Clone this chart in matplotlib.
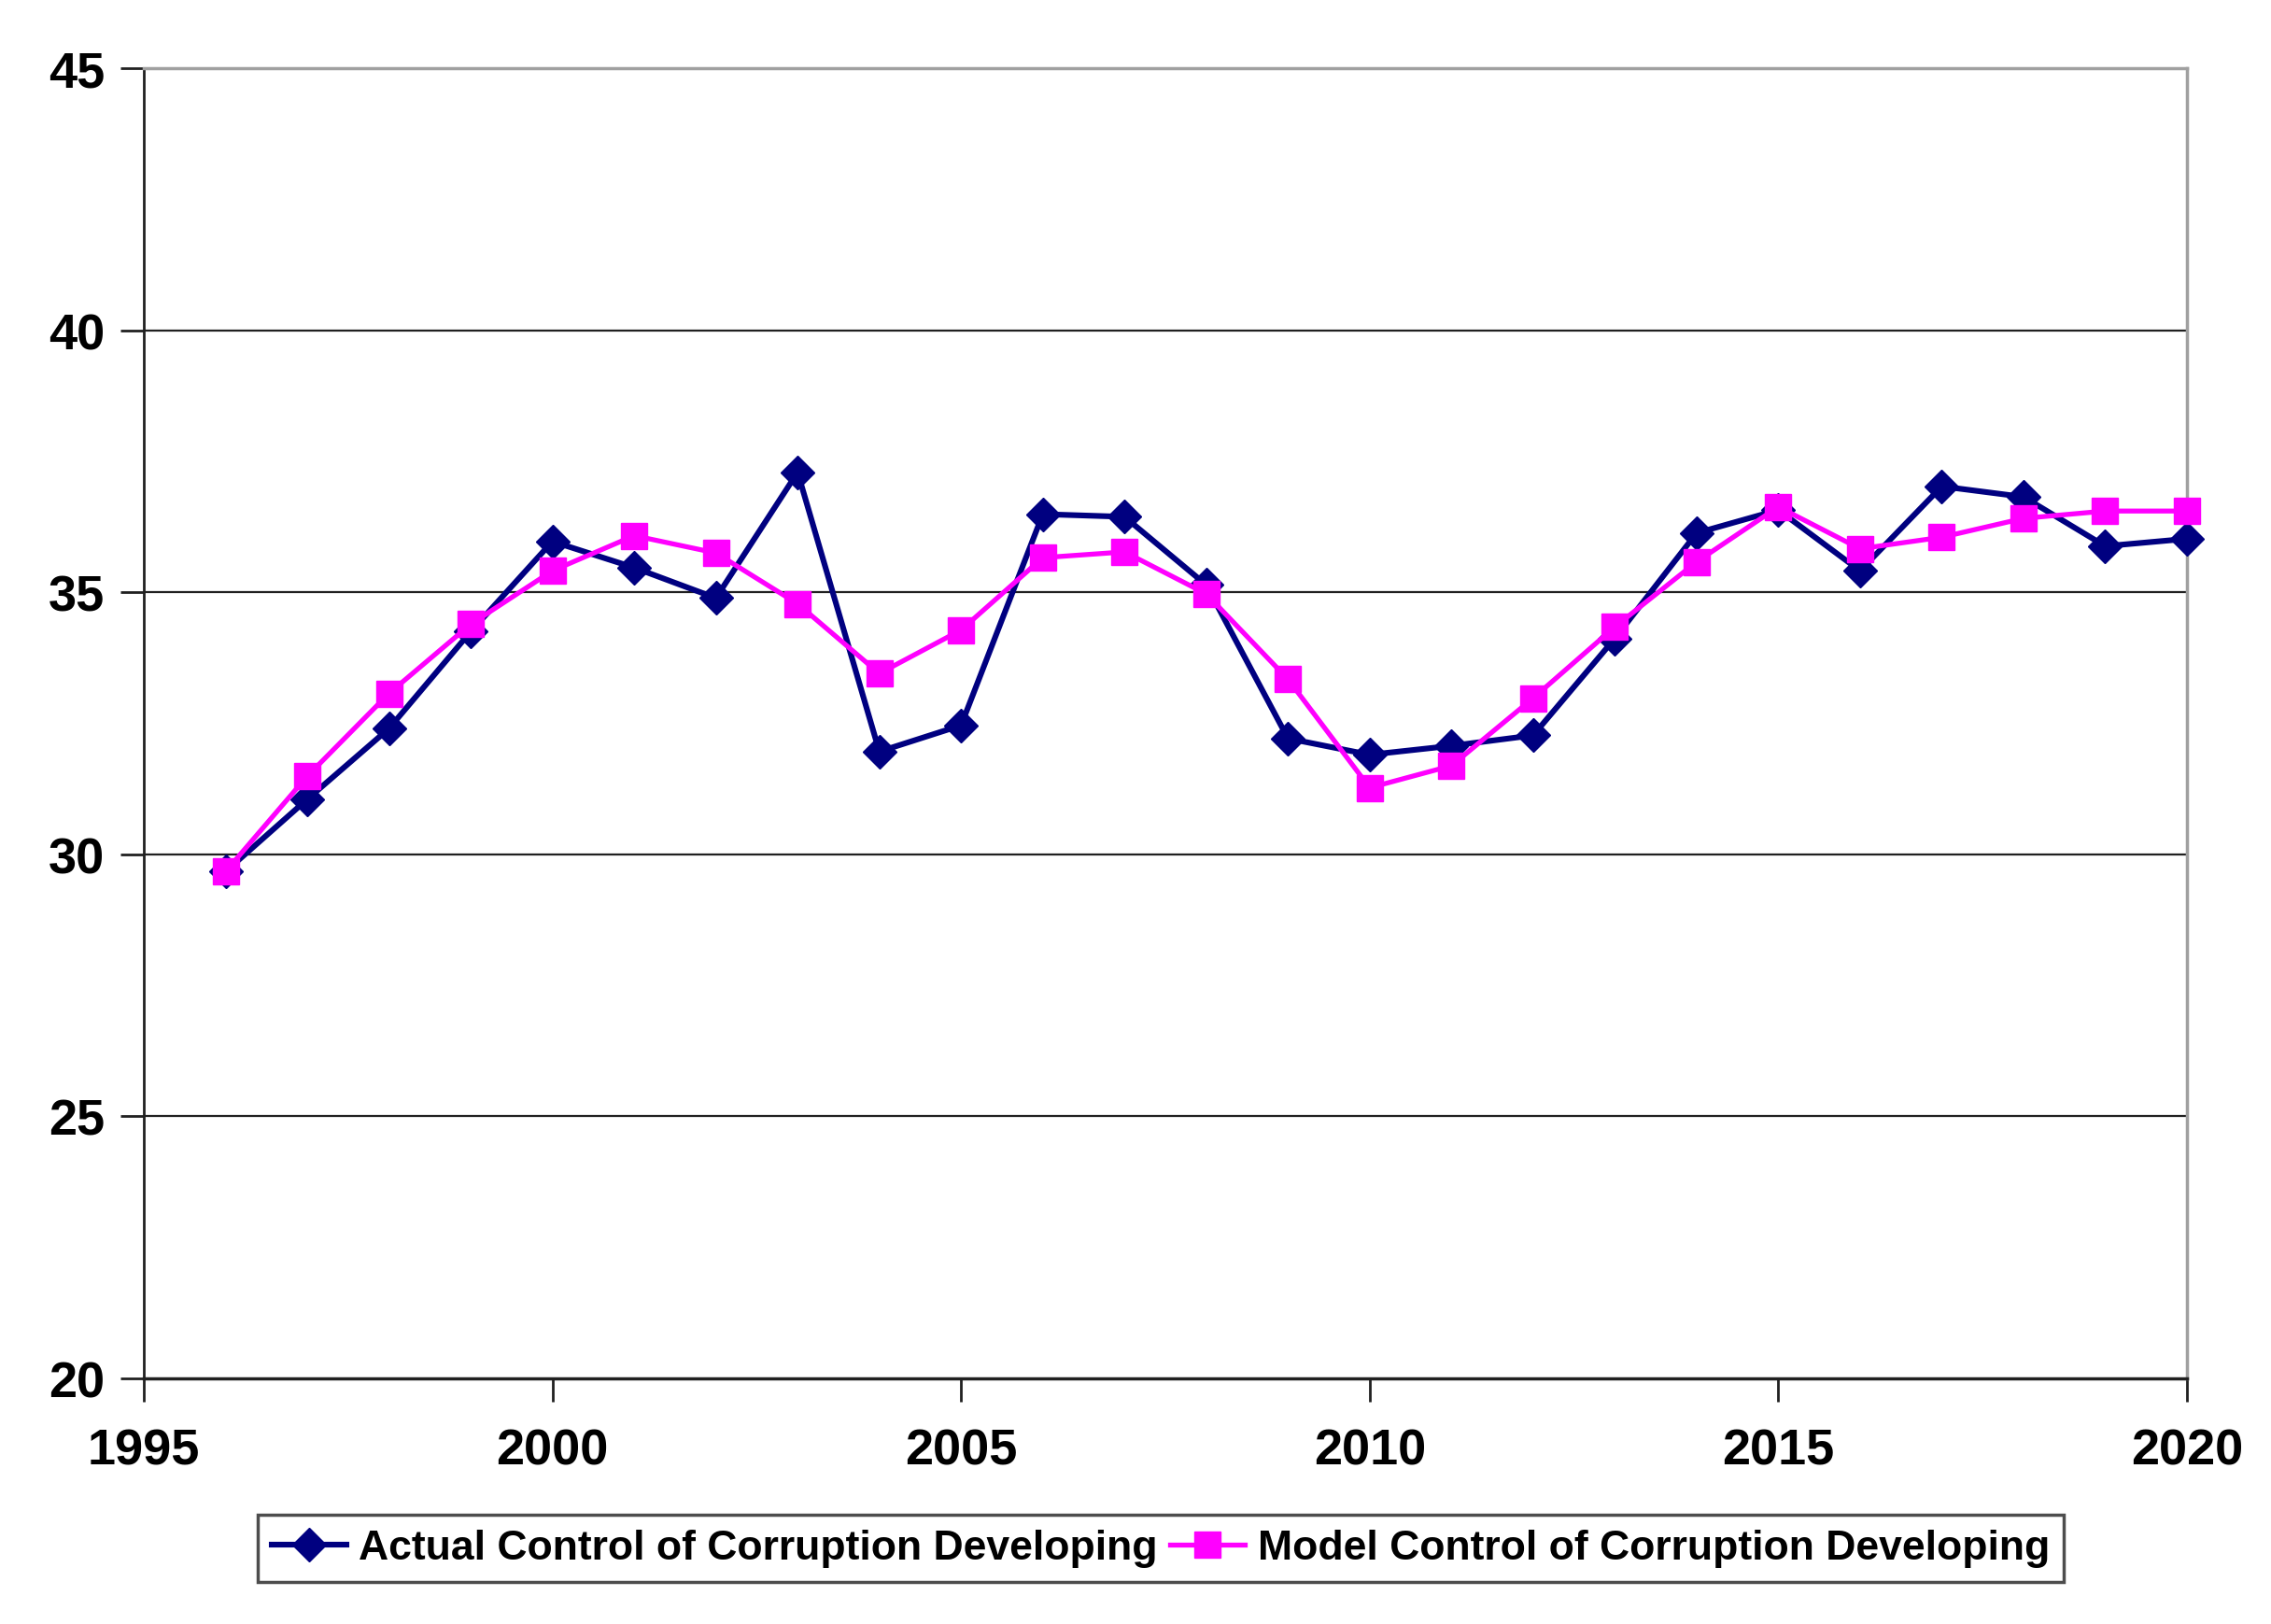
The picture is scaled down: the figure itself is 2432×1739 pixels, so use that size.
import matplotlib
matplotlib.use("Agg")
import matplotlib.pyplot as plt

years = list(range(1996, 2021))
actual = [29.67, 31.05, 32.40, 34.25, 35.97, 35.47, 34.89, 37.29, 31.96, 32.46,
          36.49, 36.44, 35.14, 32.21, 31.90, 32.07, 32.27, 34.12, 36.13, 36.57,
          35.41, 37.02, 36.82, 35.88, 36.02]
model = [29.67, 31.49, 33.07, 34.39, 35.41, 36.08, 35.75, 34.78, 33.45, 34.28,
         35.66, 35.77, 34.97, 33.34, 31.27, 31.69, 32.98, 34.34, 35.58, 36.63,
         35.83, 36.05, 36.41, 36.55, 36.55]
labels = ["Actual Control of Corruption Developing", "Model Control of Corruption Developing"]
xticks = [1995, 2000, 2005, 2010, 2015, 2020]
yticks = [20, 25, 30, 35, 40, 45]

plt.rcParams['font.family'] = ['Liberation Sans', 'DejaVu Sans']
plt.rcParams['font.weight'] = 'bold'

fig = plt.figure(figsize=(24.32, 17.4), dpi=100)
ax = fig.add_axes([154/2432, 1 - 1477/1740, (2342-154)/2432, (1477-74)/1740])

for y in [25, 30, 35, 40]:
    ax.axhline(y, color='#202020', lw=1.6, zorder=1)

ax.plot(years, actual, color='#000080', lw=4.4, marker='D', markersize=18,
        label=labels[0], zorder=3, clip_on=False)
ax.plot(years, model, color='#FF00FF', lw=3.8, marker='s', markersize=20,
        label=labels[1], zorder=4, clip_on=False)

ax.set_xlim(1995, 2020)
ax.set_ylim(20, 45)
ax.set_xticks(xticks)
ax.set_yticks(yticks)
ax.tick_params(axis='both', labelsize=39, length=18, width=2, color='#202020', direction='out')
ax.tick_params(axis='x', pad=20)
ax.tick_params(axis='y', pad=12)
for lab in ax.get_xticklabels() + ax.get_yticklabels():
    lab.set_fontweight('bold')

ax.spines['left'].set_color('#202020')
ax.spines['bottom'].set_color('#202020')
ax.spines['left'].set_linewidth(2)
ax.spines['bottom'].set_linewidth(2.5)
ax.spines['top'].set_color('#a0a0a0')
ax.spines['right'].set_color('#a0a0a0')
ax.spines['top'].set_linewidth(2.5)
ax.spines['right'].set_linewidth(2.5)

leg = ax.legend(loc='center', bbox_to_anchor=(1243/2432, 1 - 1659/1740),
                bbox_transform=fig.transFigure, ncol=2,
                frameon=True, fancybox=False, edgecolor='#202020',
                handlelength=1.8, handletextpad=0.3, columnspacing=0.3,
                borderpad=0.35, prop={'weight': 'bold', 'size': 32})
leg.get_frame().set_linewidth(2.5)

fig.savefig("out.png", dpi=100, facecolor='white')
